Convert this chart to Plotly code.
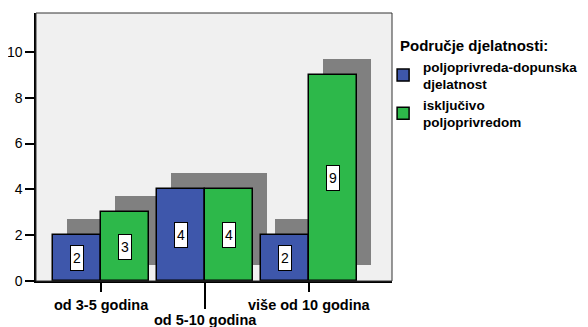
import plotly.graph_objects as go

categories = ["od 3-5 godina", "od 5-10 godina", "više od 10 godina"]
series_names = ["poljoprivreda-dopunska<br>djelatnost", "isključivo<br>poljoprivredom"]
legend_title = "Područje djelatnosti:"
blue_values = [2, 4, 2]
green_values = [3, 4, 9]
y_ticks = [0, 2, 4, 6, 8, 10]

BLUE = "#3E57AB"
GREEN = "#2DB84A"
SHADOW = "#808080"
FONT = "Liberation Sans, Arial, sans-serif"

W = 0.4615        # bar width (x units)
DX = 0.135        # shadow x offset
DY = 0.70         # shadow y offset
xs = list(range(len(categories)))

fig = go.Figure()

# shadows
for vals, off in [(blue_values, -W), (green_values, 0)]:
    fig.add_trace(go.Bar(
        x=xs, y=vals, base=[DY] * len(vals), width=W, offset=off + DX,
        marker=dict(color=SHADOW, line=dict(width=0)),
        showlegend=False, hoverinfo="skip"))

for vals, off, col, name in [(blue_values, -W, BLUE, series_names[0]),
                             (green_values, 0, GREEN, series_names[1])]:
    fig.add_trace(go.Bar(
        x=xs, y=vals, width=W, offset=off, name="<b>%s</b>" % name,
        marker=dict(color=col, line=dict(color="black", width=1.5))))
    for x, v in zip(xs, vals):
        fig.add_annotation(
            x=x + off + W / 2, y=v / 2, text=str(v), showarrow=False,
            font=dict(family=FONT, size=14, color="black"),
            bgcolor="white", bordercolor="black", borderwidth=1,
            width=10, height=22, borderpad=1)

# category labels and ticks
label_y = [-0.09, -0.147, -0.09]
tick_y = [-0.041, -0.1045, -0.041]
for x, c, ly, ty in zip(xs, categories, label_y, tick_y):
    fig.add_annotation(x=x, y=ly, xref="x", yref="paper", text="<b>%s</b>" % c,
                       showarrow=False, yanchor="middle",
                       font=dict(family=FONT, size=14.5, color="black"))
    fig.add_shape(type="line", xref="x", yref="paper", x0=x, x1=x, y0=0, y1=ty,
                  line=dict(color="black", width=2))

# legend title
fig.add_annotation(x=1.017, y=0.877, xref="paper", yref="paper",
                   xanchor="left", yanchor="middle", showarrow=False,
                   text="<b>%s</b>" % legend_title,
                   font=dict(family=FONT, size=15, color="black"))

# frame
fig.add_shape(type="rect", xref="paper", yref="paper", x0=0, x1=1, y0=0, y1=1,
              line=dict(color="#333333", width=1), layer="above")

fig.update_layout(
    width=580, height=319,
    margin=dict(l=28, r=196, t=5, b=46),
    paper_bgcolor="white", plot_bgcolor="#F0F0F0",
    barmode="overlay", bargap=0,
    font=dict(family=FONT, size=14, color="black"),
    xaxis=dict(range=[-0.625, 2.798], showticklabels=False, ticks="",
               showgrid=False, zeroline=False, showline=True, automargin=False,
               linecolor="black", linewidth=1.5, fixedrange=True),
    yaxis=dict(range=[0, 11.7], tickvals=y_ticks, ticks="outside", ticklen=9,
               tickwidth=1.5, tickcolor="black", showgrid=False, zeroline=False,
               showline=True, linecolor="black", linewidth=1.5, automargin=False,
               tickfont=dict(family=FONT, size=14, color="black")),
    legend=dict(x=0.975, y=0.858, xanchor="left", yanchor="top",
                font=dict(family=FONT, size=13.5, color="black"),
                bgcolor="rgba(0,0,0,0)", itemwidth=30),
)

fig.write_html("out.html")
